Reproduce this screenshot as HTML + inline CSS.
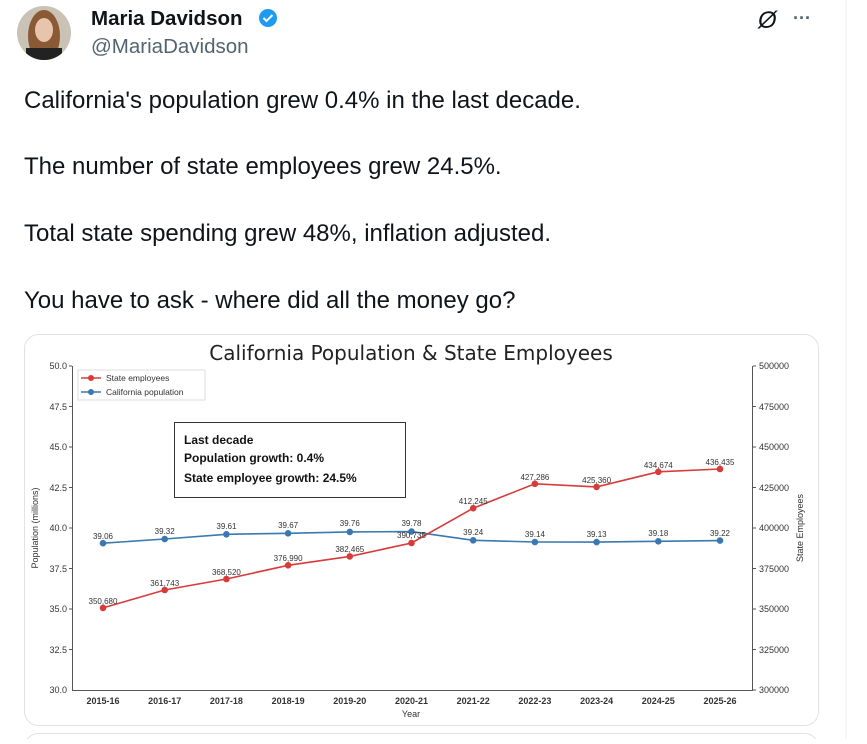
<!DOCTYPE html>
<html><head><meta charset="utf-8"><style>
body{margin:0;background:#fff;width:867px;height:739px;overflow:hidden;font-family:"Liberation Sans",sans-serif;}
</style></head><body>
<svg width="867" height="739" viewBox="0 0 867 739" xmlns="http://www.w3.org/2000/svg" font-family="Liberation Sans, DejaVu Sans, sans-serif">
<rect width="867" height="739" fill="#fff"/>
<line x1="846" y1="0" x2="846" y2="739" stroke="#eef0f2"/>
<defs><clipPath id="av"><circle cx="44" cy="33" r="27"/></clipPath></defs>
<g clip-path="url(#av)">
<rect x="14" y="4" width="60" height="60" fill="#c9c2b5"/>
<ellipse cx="44" cy="36" rx="16" ry="26" fill="#8a5a35"/>
<ellipse cx="44" cy="30" rx="9" ry="12" fill="#e7c4ab"/>
<rect x="26" y="48" width="36" height="20" fill="#222"/>
</g>
<text x="91" y="25" font-size="20.5" font-weight="bold" fill="#0f1419">Maria Davidson</text>
<circle cx="268" cy="18" r="9" fill="#1d9bf0"/>
<path d="M263.5 18 l3 3 l6 -6" stroke="#fff" stroke-width="2" fill="none"/>
<text x="91" y="53" font-size="20.5" fill="#536471">@MariaDavidson</text>
<text x="758" y="28" font-size="24" font-style="italic" fill="#0f1419">Ø</text>
<text x="793" y="24" font-size="18" font-weight="bold" fill="#536471">···</text>
<g font-size="24" fill="#0f1419">
<text x="24" y="108">California's population grew 0.4% in the last decade.</text>
<text x="24" y="174">The number of state employees grew 24.5%.</text>
<text x="24" y="241">Total state spending grew 48%, inflation adjusted.</text>
<text x="24" y="308">You have to ask - where did all the money go?</text>
</g>
<rect x="24.5" y="334.5" width="794" height="391" rx="14" fill="#fff" stroke="#dfe3e6"/>
<rect x="24.5" y="733.5" width="794" height="40" rx="14" fill="#fff" stroke="#dfe3e6"/>
<text x="411" y="360" font-size="20" font-family="DejaVu Sans, sans-serif" text-anchor="middle" fill="#222">California Population &amp; State Employees</text>
<g stroke="#555" stroke-width="1" fill="none">
<line x1="72.5" y1="366" x2="72.5" y2="690"/>
<line x1="752.5" y1="366" x2="752.5" y2="690"/>
<line x1="72" y1="690.5" x2="753" y2="690.5"/>
</g>
<g font-size="9" fill="#333" text-anchor="end">
<text x="67" y="369">50.0</text><text x="67" y="410">47.5</text><text x="67" y="450">45.0</text><text x="67" y="491">42.5</text><text x="67" y="531">40.0</text><text x="67" y="572">37.5</text><text x="67" y="612">35.0</text><text x="67" y="653">32.5</text><text x="67" y="693">30.0</text>
</g>
<g stroke="#555"><line x1="69" y1="366" x2="72" y2="366"/><line x1="69" y1="406.5" x2="72" y2="406.5"/><line x1="69" y1="447" x2="72" y2="447"/><line x1="69" y1="487.5" x2="72" y2="487.5"/><line x1="69" y1="528" x2="72" y2="528"/><line x1="69" y1="568.5" x2="72" y2="568.5"/><line x1="69" y1="609" x2="72" y2="609"/><line x1="69" y1="649.5" x2="72" y2="649.5"/>
<line x1="753" y1="366" x2="756" y2="366"/><line x1="753" y1="406.5" x2="756" y2="406.5"/><line x1="753" y1="447" x2="756" y2="447"/><line x1="753" y1="487.5" x2="756" y2="487.5"/><line x1="753" y1="528" x2="756" y2="528"/><line x1="753" y1="568.5" x2="756" y2="568.5"/><line x1="753" y1="609" x2="756" y2="609"/><line x1="753" y1="649.5" x2="756" y2="649.5"/><line x1="753" y1="690" x2="756" y2="690"/></g>
<g font-size="9" fill="#333">
<text x="759" y="369">500000</text><text x="759" y="410">475000</text><text x="759" y="450">450000</text><text x="759" y="491">425000</text><text x="759" y="531">400000</text><text x="759" y="572">375000</text><text x="759" y="612">350000</text><text x="759" y="653">325000</text><text x="759" y="693">300000</text>
</g>
<text transform="translate(38,528) rotate(-90)" font-size="9" fill="#333" text-anchor="middle">Population (millions)</text>
<text transform="translate(803,528) rotate(-90)" font-size="9" fill="#333" text-anchor="middle">State Employees</text>
<g font-size="9" fill="#333" text-anchor="middle" font-weight="bold">
<text x="103" y="704">2015-16</text><text x="164.7" y="704">2016-17</text><text x="226.4" y="704">2017-18</text><text x="288.1" y="704">2018-19</text><text x="349.8" y="704">2019-20</text><text x="411.5" y="704">2020-21</text><text x="473.2" y="704">2021-22</text><text x="534.9" y="704">2022-23</text><text x="596.6" y="704">2023-24</text><text x="658.3" y="704">2024-25</text><text x="720" y="704">2025-26</text>
</g>
<text x="411" y="717" font-size="9" fill="#333" text-anchor="middle">Year</text>
<polyline fill="none" stroke="#3b78b0" stroke-width="1.6" points="103,543.2 164.7,539 226.4,534.3 288.1,533.3 349.8,531.9 411.5,531.6 473.2,540.3 534.9,542 596.6,542.1 658.3,541.3 720,540.6"/>
<g fill="#3b78b0"><circle cx="103" cy="543.2" r="3.3"/><circle cx="164.7" cy="539" r="3.3"/><circle cx="226.4" cy="534.3" r="3.3"/><circle cx="288.1" cy="533.3" r="3.3"/><circle cx="349.8" cy="531.9" r="3.3"/><circle cx="411.5" cy="531.6" r="3.3"/><circle cx="473.2" cy="540.3" r="3.3"/><circle cx="534.9" cy="542" r="3.3"/><circle cx="596.6" cy="542.1" r="3.3"/><circle cx="658.3" cy="541.3" r="3.3"/><circle cx="720" cy="540.6" r="3.3"/></g>
<polyline fill="none" stroke="#d93a3a" stroke-width="1.6" points="103,607.9 164.7,590 226.4,579 288.1,565.3 349.8,556.4 411.5,543 473.2,508.2 534.9,483.8 596.6,486.9 658.3,471.8 720,469"/>
<g fill="#d93a3a"><circle cx="103" cy="607.9" r="3.3"/><circle cx="164.7" cy="590" r="3.3"/><circle cx="226.4" cy="579" r="3.3"/><circle cx="288.1" cy="565.3" r="3.3"/><circle cx="349.8" cy="556.4" r="3.3"/><circle cx="411.5" cy="543" r="3.3"/><circle cx="473.2" cy="508.2" r="3.3"/><circle cx="534.9" cy="483.8" r="3.3"/><circle cx="596.6" cy="486.9" r="3.3"/><circle cx="658.3" cy="471.8" r="3.3"/><circle cx="720" cy="469" r="3.3"/></g>
<g font-size="8" fill="#333" text-anchor="middle">
<text x="103" y="539">39.06</text><text x="164.7" y="534">39.32</text><text x="226.4" y="529">39.61</text><text x="288.1" y="528">39.67</text><text x="349.8" y="526">39.76</text><text x="411.5" y="526">39.78</text><text x="473.2" y="535">39.24</text><text x="534.9" y="537">39.14</text><text x="596.6" y="537">39.13</text><text x="658.3" y="536">39.18</text><text x="720" y="536">39.22</text>
<text x="103" y="604">350,680</text><text x="164.7" y="586">361,743</text><text x="226.4" y="575">368,520</text><text x="288.1" y="561">376,990</text><text x="349.8" y="552">382,465</text><text x="411.5" y="538">390,735</text><text x="473.2" y="504">412,245</text><text x="534.9" y="480">427,286</text><text x="596.6" y="483">425,360</text><text x="658.3" y="468">434,674</text><text x="720" y="465">436,435</text>
</g>
<rect x="78" y="370" width="127" height="30" fill="#fff" stroke="#ddd"/>
<line x1="81" y1="378" x2="101" y2="378" stroke="#d93a3a" stroke-width="1.6"/><circle cx="91" cy="378" r="3" fill="#d93a3a"/>
<line x1="81" y1="392" x2="101" y2="392" stroke="#3b78b0" stroke-width="1.6"/><circle cx="91" cy="392" r="3" fill="#3b78b0"/>
<text x="106" y="381" font-size="8.5" fill="#333">State employees</text>
<text x="106" y="395" font-size="8.5" fill="#333">California population</text>
<rect x="174.5" y="422.5" width="231" height="75" fill="#fff" stroke="#333"/>
<g font-size="12" font-weight="bold" fill="#111">
<text x="184" y="444">Last decade</text><text x="184" y="462">Population growth: 0.4%</text><text x="184" y="482">State employee growth: 24.5%</text>
</g>
</svg>
</body></html>
